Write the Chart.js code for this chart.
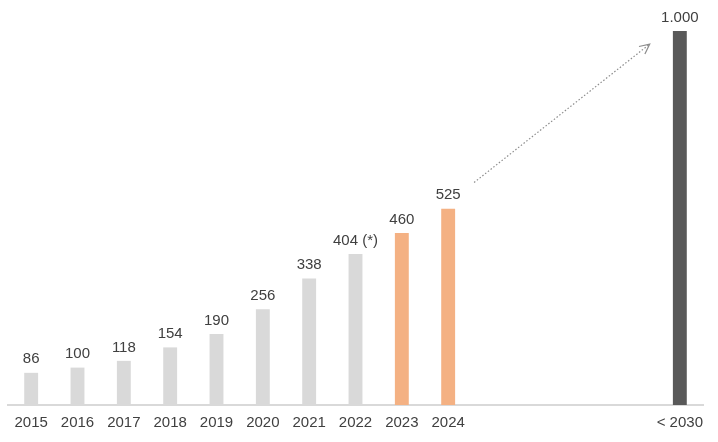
<!DOCTYPE html>
<html>
<head>
<meta charset="utf-8">
<script src="https://cdn.jsdelivr.net/npm/chart.js@4"></script>
<style>
  html, body { margin: 0; padding: 0; background: #fff; }
  #wrap { width: 718px; height: 442px; }
</style>
</head>
<body>
<div id="wrap"><canvas id="chart"></canvas></div>
<script>
// data
const years = ['2015', '2016', '2017', '2018', '2019', '2020', '2021', '2022', '2023', '2024', '', '', '', '', '< 2030'];
const values = [86, 100, 118, 154, 190, 256, 338, 404, 460, 525, null, null, null, null, 1000];
const valueLabels = ['86', '100', '118', '154', '190', '256', '338', '404 (*)', '460', '525', '', '', '', '', '1.000'];
const barColors = ['#d9d9d9', '#d9d9d9', '#d9d9d9', '#d9d9d9', '#d9d9d9', '#d9d9d9', '#d9d9d9', '#d9d9d9',
                   '#f4b183', '#f4b183', '#d9d9d9', '#d9d9d9', '#d9d9d9', '#d9d9d9', '#595959'];
// trend arrow, in (category index, value)
const arrowFrom = [9.56, 595];
const arrowTo = [13.35, 965];

const textColor = '#404040';
const fontFamily = '"Liberation Sans", Arial, sans-serif';

const valueLabelPlugin = {
    id: 'valueLabels',
    afterDatasetsDraw(chart) {
        const ctx = chart.ctx;
        const meta = chart.getDatasetMeta(0);
        ctx.save();
        ctx.fillStyle = textColor;
        ctx.font = '15px ' + fontFamily;
        ctx.textAlign = 'center';
        ctx.textBaseline = 'bottom';
        meta.data.forEach((bar, i) => {
            if (!valueLabels[i]) return;
            ctx.fillText(valueLabels[i], bar.x, bar.y - 6);
        });
        ctx.restore();
    }
};

const arrowPlugin = {
    id: 'trendArrow',
    afterDatasetsDraw(chart) {
        const xs = chart.scales.x, ys = chart.scales.y;
        const x0 = xs.getPixelForValue(arrowFrom[0]), y0 = ys.getPixelForValue(arrowFrom[1]);
        const x1 = xs.getPixelForValue(arrowTo[0]), y1 = ys.getPixelForValue(arrowTo[1]);
        const ctx = chart.ctx;
        ctx.save();
        ctx.strokeStyle = '#8c8c8c';
        ctx.lineWidth = 1.2;
        ctx.setLineDash([1.5, 2]);
        ctx.beginPath();
        ctx.moveTo(x0, y0);
        ctx.lineTo(x1, y1);
        ctx.stroke();
        // open arrow head
        ctx.setLineDash([]);
        const ang = Math.atan2(y1 - y0, x1 - x0);
        const len = 11;
        ctx.beginPath();
        ctx.moveTo(x1 - len * Math.cos(ang - 0.45), y1 - len * Math.sin(ang - 0.45));
        ctx.lineTo(x1, y1);
        ctx.lineTo(x1 - len * Math.cos(ang + 0.45), y1 - len * Math.sin(ang + 0.45));
        ctx.stroke();
        ctx.restore();
    }
};

new Chart(document.querySelector('#chart'), {
    type: 'bar',
    data: {
        labels: years,
        datasets: [{
            data: values,
            backgroundColor: barColors,
            categoryPercentage: 1,
            barPercentage: 0.3
        }]
    },
    options: {
        responsive: true,
        maintainAspectRatio: false,
        animation: false,
        layout: { padding: { left: 8, right: 15, top: 31, bottom: 2 } },
        plugins: {
            legend: { display: false },
            tooltip: { enabled: false }
        },
        scales: {
            x: {
                grid: { display: false, drawTicks: false },
                border: { display: true, color: '#d9d9d9', width: 2 },
                ticks: {
                    color: textColor,
                    font: { family: fontFamily, size: 15, lineHeight: 1 },
                    padding: 10,
                    maxRotation: 0,
                    autoSkip: false
                }
            },
            y: {
                display: false,
                min: 0,
                max: 1000
            }
        }
    },
    plugins: [valueLabelPlugin, arrowPlugin]
});
</script>
</body>
</html>
